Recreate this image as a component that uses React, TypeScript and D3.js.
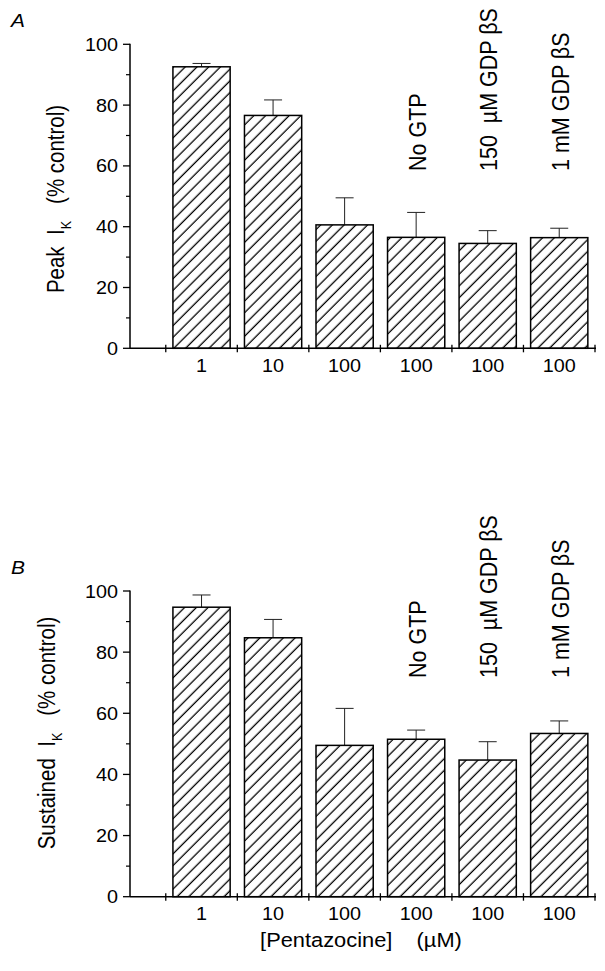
import React from 'react';
import * as d3 from 'd3';

const categories = ['1', '10', '100', '100', '100', '100'];
const annotations = ['', '', '', 'No GTP', '150  \u00b5M GDP \u03b2S', '1 mM GDP \u03b2S'];

const peakValues = [92.6, 76.6, 40.6, 36.5, 34.5, 36.4];
const peakErrors = [93.7, 81.7, 49.5, 44.7, 38.7, 39.5];

const sustainedValues = [94.7, 84.7, 49.5, 51.5, 44.7, 53.4];
const sustainedErrors = [98.7, 90.7, 61.6, 54.5, 50.7, 57.5];

const yTicks = [0, 20, 40, 60, 80, 100];
const yMinor = [10, 30, 50, 70, 90];

const FONT = '"Liberation Sans", Arial, sans-serif';
const FS = 18;

const x = d3.scaleLinear().domain([0, 6.5]).range([130, 595]);
const bandW = x(0.8) - x(0);

// horizontal text, slightly widened like the scanned figure
const HText = ({x: tx, y: ty, anchor = 'middle', sx = 1.1, size = FS, italic = false, children}: any) => (
  <text transform={`translate(${tx},${ty}) scale(${sx},1)`} textAnchor={anchor} fontSize={size}
    fontStyle={italic ? 'italic' : 'normal'} fontFamily={FONT} style={{whiteSpace: 'pre'}}>{children}</text>
);

type PanelProps = {
  letter: string;
  top: number;
  bottom: number;
  values: number[];
  errors: number[];
  label: string;
  labelX: number;
  labelY: number;
  annotY: number;
};

const Panel = ({letter, top, bottom, values, errors, label, labelX, labelY, annotY}: PanelProps) => {
  const y = d3.scaleLinear().domain([0, 100]).range([bottom, top]);
  const boundaries = d3.range(0.5, 7, 1);
  return (
    <g>
      <HText x={11} y={top - 17} anchor="start" size={19} italic>{letter}</HText>
      {/* bars */}
      {values.map((v, i) => {
        const cx = x(i + 1);
        return (
          <g key={i}>
            <line x1={cx} x2={cx} y1={y(v)} y2={y(errors[i])} stroke="#222" strokeWidth={1} />
            <line x1={cx - 9} x2={cx + 9} y1={y(errors[i])} y2={y(errors[i])} stroke="#222" strokeWidth={1} />
            <rect x={cx - bandW / 2} y={y(v)} width={bandW} height={y(0) - y(v)} fill="white" />
            <rect x={cx - bandW / 2} y={y(v)} width={bandW} height={y(0) - y(v)}
              fill="url(#hatch)" stroke="black" strokeWidth={1.5} />
          </g>
        );
      })}
      {/* y axis */}
      <line x1={x(0)} x2={x(0)} y1={y(100) - 0.5} y2={y(0)} stroke="black" strokeWidth={1.5} />
      {yTicks.map(t => (
        <g key={t}>
          <line x1={x(0) - 7} x2={x(0)} y1={y(t)} y2={y(t)} stroke="black" strokeWidth={1.3} />
          <HText x={x(0) - 12} y={y(t) + 6.5} anchor="end">{String(t)}</HText>
        </g>
      ))}
      {yMinor.map(t => (
        <line key={t} x1={x(0) - 4} x2={x(0)} y1={y(t)} y2={y(t)} stroke="black" strokeWidth={1.2} />
      ))}
      {/* x axis */}
      <line x1={x(0)} x2={x(6.5) + 1} y1={y(0)} y2={y(0)} stroke="black" strokeWidth={1.5} />
      {boundaries.map(b => (
        <line key={b} x1={x(b)} x2={x(b)} y1={y(0) - 3.5} y2={y(0) + 4} stroke="black" strokeWidth={1.3} />
      ))}
      {categories.map((c, i) => (
        <HText key={i} x={x(i + 1)} y={y(0) + 23.5}>{c}</HText>
      ))}
      {annotations.map((a, i) => a ? (
        <text key={i} transform={`translate(${x(i + 1) + 1},${annotY}) rotate(-90) scale(1,1.12)`} dy="0.36em"
          fontSize={21.5} fontFamily={FONT} style={{whiteSpace: 'pre'}}>{a}</text>
      ) : null)}
      {/* y label */}
      <text transform={`translate(${labelX},${labelY}) rotate(-90) scale(1,1.15)`} dy="0.36em"
        textAnchor="middle" fontSize={20.5} fontFamily={FONT} style={{whiteSpace: 'pre'}}>
        {label + '  I'}<tspan fontSize={12.5} dy="0.45em">K</tspan><tspan dy="-0.3em">{'   (% control)'}</tspan>
      </text>
    </g>
  );
};

export default function App() {
  return (
    <svg width={605} height={971} style={{position: 'absolute', left: 0, top: 0, background: 'white'}}>
      <defs>
        <pattern id="hatch" patternUnits="userSpaceOnUse" width={8.3} height={8.3} patternTransform="rotate(45)">
          <line x1={4} x2={4} y1={0} y2={8.3} stroke="black" strokeWidth={1.3} />
        </pattern>
      </defs>
      <rect width={605} height={971} fill="white" />
      <Panel letter="A" top={44.3} bottom={348.3} values={peakValues} errors={peakErrors}
        label="Peak" labelX={56} labelY={199} annotY={171} />
      <Panel letter="B" top={591} bottom={896.7} values={sustainedValues} errors={sustainedErrors}
        label="Sustained" labelX={47} labelY={733} annotY={678} />
      <HText x={361} y={947} sx={1.12} size={19.5}>{'[Pentazocine]    (\u00b5M)'}</HText>
    </svg>
  );
}
